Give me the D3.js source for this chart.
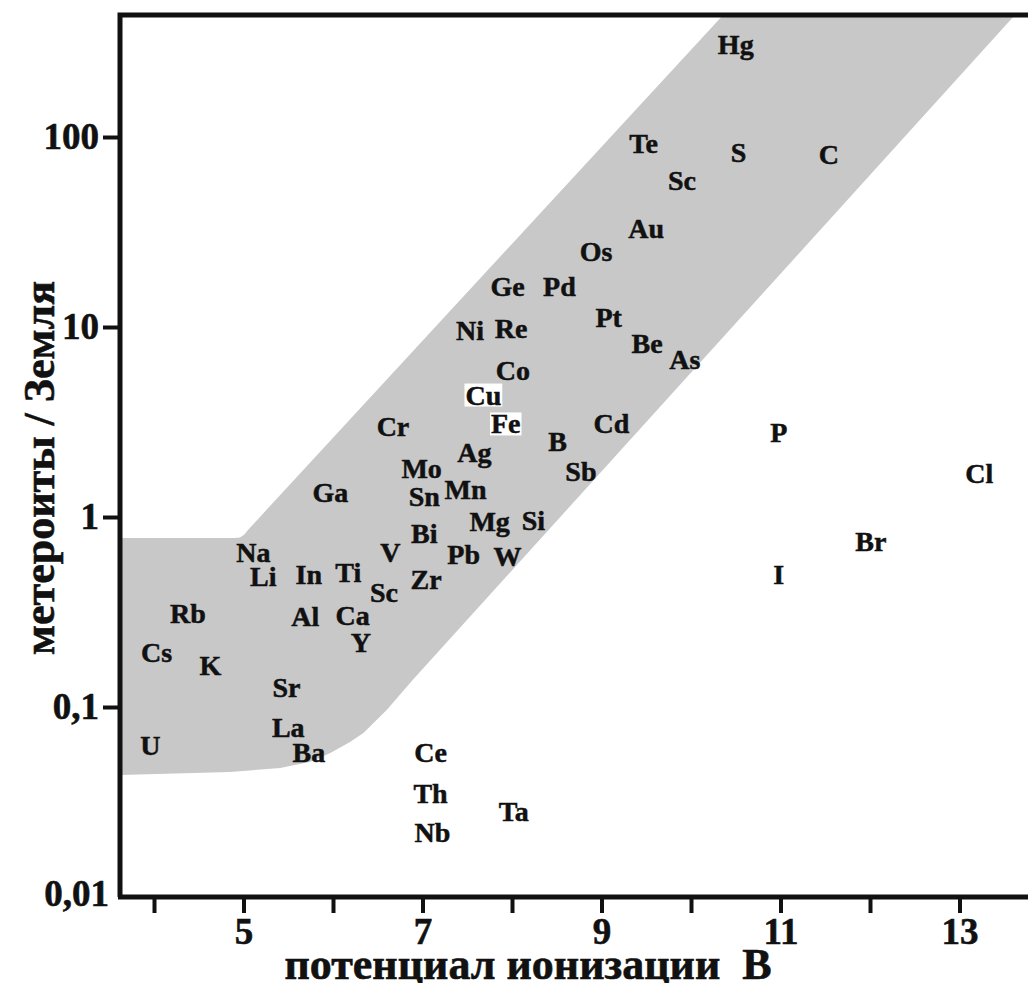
<!DOCTYPE html>
<html><head><meta charset="utf-8">
<script src="https://cdn.jsdelivr.net/npm/d3@7"></script>
<style>
body{margin:0;background:#fff}
text{font-family:"Liberation Serif","Times New Roman",serif;font-weight:bold;fill:#111;white-space:pre}
</style>
</head><body>
<svg id="c" width="1028" height="983"></svg>
<script>
// ---- data ----
const elements   = ["Hg","Te","S","C","Sc","Au","Os","Ge","Pd","Pt","Ni","Re","Be","As","Co","Cu","Fe","Cr","Cd","B","P","Ag","Mo","Sb","Cl","Mn","Ga","Sn","Mg","Si","Bi","Br","Na","V","Pb","W","Li","In","Ti","I","Zr","Sc","Rb","Al","Ca","Y","Cs","K","Sr","La","U","Ba","Ce","Th","Ta","Nb"];
const potentials = [10.50,9.47,10.53,11.54,9.90,9.50,8.94,7.95,8.53,9.08,7.53,7.99,9.51,9.93,8.01,7.68,7.93,6.67,9.11,8.51,10.98,7.58,6.99,8.77,13.22,7.48,5.97,7.02,7.75,8.24,7.02,12.01,5.11,6.64,7.46,7.95,5.22,5.73,6.17,10.98,7.04,6.57,4.38,5.69,6.22,6.31,4.03,4.63,5.48,5.50,3.96,5.73,7.09,7.09,8.02,7.11];
const ratios     = [308,93,83,81,59,33,25,16.4,16.4,11.2,9.6,9.9,8.2,6.8,5.9,4.4,3.1,3.0,3.1,2.5,2.8,2.2,1.81,1.75,1.7,1.4,1.35,1.29,0.95,0.96,0.82,0.75,0.65,0.65,0.64,0.62,0.49,0.50,0.51,0.50,0.47,0.40,0.31,0.30,0.305,0.22,0.195,0.166,0.127,0.0785,0.063,0.058,0.058,0.0353,0.0284,0.022];
const highlighted = ["Cu","Fe"];

const bandUpperX = [3.62,4.90,4.96,5.01,5.05,10.36];
const bandUpperY = [0.775,0.775,0.78,0.81,0.855,439];
const bandLowerX = [3.62,4.85,5.41,5.74,5.97,6.19,6.34,6.60,6.89,13.62];
const bandLowerY = [0.0439,0.0455,0.0477,0.0514,0.0573,0.0654,0.073,0.0964,0.1387,439];

const xTicks = [4,5,6,7,8,9,10,11,12,13];
const xTickLabels = ["","5","","7","","9","","11","","13"];
const yTicks = [0.01,0.1,1,10,100];
const yTickLabels = ["0,01","0,1","1","10","100"];
const xTitle = "потенциал ионизации  В";
const yTitle = "метероиты / Земля";

// ---- layout ----
const svg = d3.select("#c");
const L = 120, T = 15, R = 1030, B = 897;
const x = d3.scaleLinear().domain([4,13]).range([154,959.5]);
const y = d3.scaleLog().domain([0.01,100]).range([897,137]);

svg.append("defs").append("clipPath").attr("id","plot")
  .append("rect").attr("x",L).attr("y",T).attr("width",R-L).attr("height",B-T);

// band
const up = bandUpperX.map((v,i)=>[x(v),y(bandUpperY[i])]);
const lo = bandLowerX.map((v,i)=>[x(v),y(bandLowerY[i])]).reverse();
const lg = d3.line().curve(d3.curveLinear);
const path = lg(up) + "L" + lg(lo).slice(1) + "Z";
svg.append("path").attr("d",path).attr("fill","#c8c8c8").attr("clip-path","url(#plot)");

// labels
const g = svg.append("g");
elements.forEach((el,i)=>{
  const t = g.append("text")
    .attr("x",x(potentials[i])).attr("y",y(ratios[i])).attr("dy","0.35em")
    .attr("text-anchor","middle").attr("font-size",28)
    .attr("stroke","#111").attr("stroke-width",0.5).text(el);
  if (highlighted.includes(el)) {
    const bb = t.node().getBBox();
    g.insert("rect", () => t.node())
      .attr("x",bb.x-1).attr("y",bb.y+4).attr("width",bb.width+2).attr("height",bb.height-8)
      .attr("fill","#fff");
  }
});

// axes
const xa = svg.append("g").attr("transform",`translate(0,${B})`)
  .call(d3.axisBottom(x).tickValues(xTicks).tickSize(16).tickPadding(5)
    .tickFormat((d,i)=>xTickLabels[i]));
xa.select(".domain").remove();
xa.selectAll(".tick line").attr("stroke","#111").attr("stroke-width",4);
xa.selectAll(".tick text").attr("font-size",37).attr("fill","#111").attr("font-family",null)
  .attr("stroke","#111").attr("stroke-width",0.6);

const ya = svg.append("g").attr("transform",`translate(${L},0)`)
  .call(d3.axisLeft(y).tickValues(yTicks).tickSize(17).tickPadding(4)
    .tickFormat((d,i)=>yTickLabels[i]));
ya.select(".domain").remove();
ya.selectAll(".tick line").attr("stroke","#111").attr("stroke-width",4)
  .attr("display",(d)=>d===0.01?"none":null);
ya.selectAll(".tick text").attr("font-size",37).attr("fill","#111").attr("font-family",null)
  .attr("stroke","#111").attr("stroke-width",0.6)
  .attr("dx",(d)=>d===0.01?10:0).attr("dy",(d)=>d===0.01?"0.22em":"0.32em");

// frame
svg.append("path").attr("d",`M${L},${B}V${T}H${R}`).attr("fill","none").attr("stroke","#111").attr("stroke-width",5);
svg.append("line").attr("x1",L-2).attr("x2",R).attr("y1",B).attr("y2",B).attr("stroke","#111").attr("stroke-width",5);

// titles
svg.append("text").attr("x",528).attr("y",979).attr("text-anchor","middle")
  .attr("xml:space","preserve").attr("font-size",44)
  .attr("stroke","#111").attr("stroke-width",0.6).text(xTitle);
svg.append("text").attr("transform","translate(54,468) rotate(-90)").attr("text-anchor","middle")
  .attr("font-size",44).attr("stroke","#111").attr("stroke-width",0.6).text(yTitle);
</script>
</body></html>
